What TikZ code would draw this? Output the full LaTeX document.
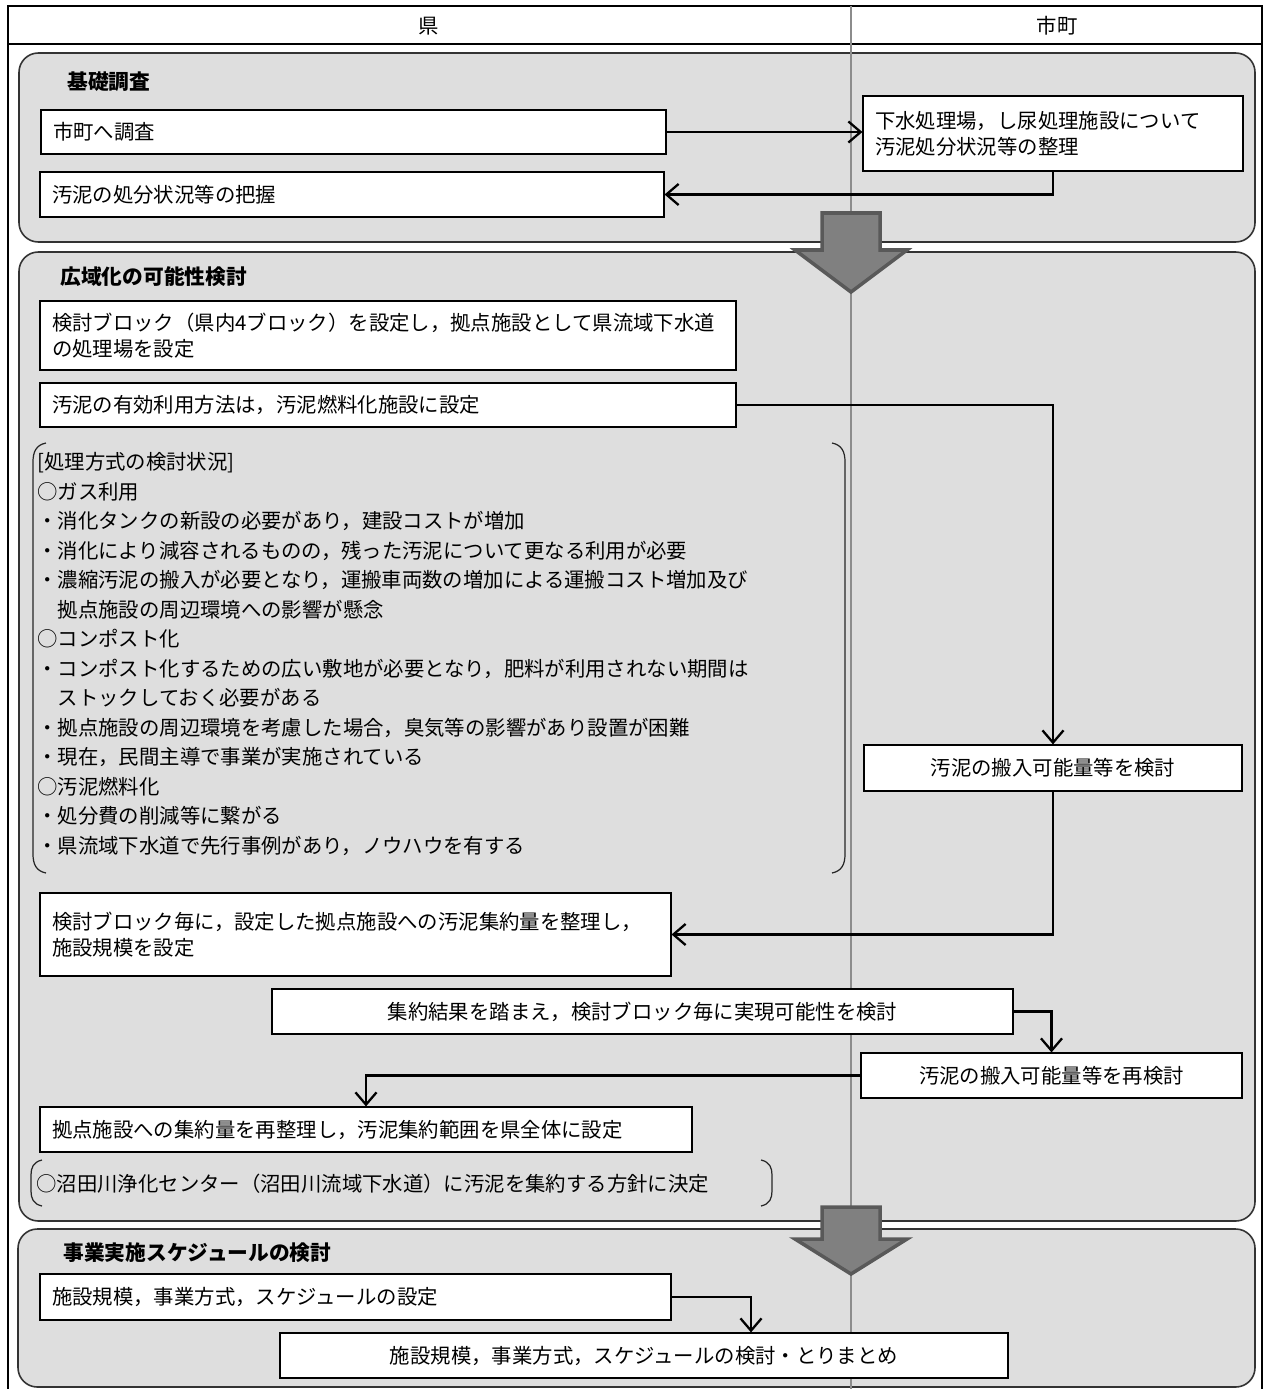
\documentclass[tikz,border=0pt]{standalone}
\usepackage{fontspec}
\setmainfont{Noto Sans CJK JP}
\usetikzlibrary{arrows.meta}
\newcommand{\bodyfont}{\fontsize{11.6pt}{15pt}\selectfont}
\newcommand{\listfont}{\fontsize{11.6pt}{16.8pt}\selectfont}
\begin{document}
\begin{tikzpicture}[
    x = 0.02cm, y = -0.02cm,
    panel/.style = {
        draw = black!80,
        line width = 0.9pt,
        fill = black!13,
        rounded corners = 11pt
    },
    box/.style = {
        draw,
        fill = white,
        line width = 0.7pt,
        inner xsep = 0.24cm,
        inner ysep = 0pt,
        align = left,
        font = \bodyfont
    },
    cbox/.style = {box, align = center},
    title/.style = {anchor = west, inner sep = 0pt, font = \fontsize{11.8pt}{14pt}\selectfont\bfseries},
    lane/.style = {draw = black!45, line width = 1.3pt},
    bigarrow/.style = {fill = black!50, draw = black!65, line width = 2pt},
    bracket/.style = {draw = black!85, line width = 0.7pt},
    flow/.style = {-{Straight Barb[length = 7pt, width = 12pt]}, line width = 1.3pt}
]
\useasboundingbox (0,0) rectangle (1267,1389);

% Frame and lane header
\draw[line width = 1.1pt] (8,1389) -- (8,6) -- (1262,6) -- (1262,1389);
\draw[line width = 1.1pt] (8,44) -- (1262,44);
\node[font = \bodyfont] (pref) at (429,26) {県};
\node[font = \bodyfont] (town) at (1057,26) {市町};

% Phase panels
\draw[panel] (19,53) rectangle (1255,242);
\draw[panel] (19,252) rectangle (1255,1221);
\draw[panel] (18,1229) rectangle (1255,1387);

% Lane divider
\draw[lane] (851,6) -- (851,1389);

% Arrows between phases
\foreach \ytop/\yhead/\ytip in {213/250/292, 1207/1239/1274}
    \draw[bigarrow] (822,\ytop) -- (880,\ytop) -- (880,\yhead) -- (907,\yhead)
        -- (851,\ytip) -- (795,\yhead) -- (822,\yhead) -- cycle;

% Phase 1: survey
\node[title] (survey) at (67,82) {基礎調査};
\node[box, text width = 12.02cm, minimum height = 0.88cm] (ask) at (353.5,132) {市町へ調査};
\node[box, text width = 12.0cm, minimum height = 0.9cm] (grasp) at (352,194.5) {汚泥の処分状況等の把握};
\node[box, text width = 7.12cm, minimum height = 1.5cm] (sort) at (1053,133.5) {
    下水処理場，し尿処理施設について\\
    汚泥処分状況等の整理
};

\draw[flow] (ask.east) -- (ask.east -| sort.west);
\draw[flow] (sort.south) |- (grasp.east);

% Phase 2: wide-area study
\node[title] (study) at (60,277) {広域化の可能性検討};
\node[box, text width = 13.44cm, minimum height = 1.38cm] (block) at (388,335.5) {
    検討ブロック（県内4ブロック）を設定し，拠点施設として県流域下水道\\
    の処理場を設定
};
\node[box, text width = 13.44cm, minimum height = 0.88cm] (use) at (388,405) {汚泥の有効利用方法は，汚泥燃料化施設に設定};

% Treatment methods (bracketed note)
\draw[bracket] (46,443) .. controls (36,445) and (33,452) .. (33,462) -- (33,854)
    .. controls (33,864) and (36,871) .. (46,873);
\draw[bracket] (832,443) .. controls (842,445) and (845,452) .. (845,462) -- (845,854)
    .. controls (845,864) and (842,871) .. (832,873);
\node[anchor = north west, inner sep = 0pt, align = left, font = \listfont] (methods) at (37,452) {
    [処理方式の検討状況]\\
    ○ガス利用\\
    ・消化タンクの新設の必要があり，建設コストが増加\\
    ・消化により減容されるものの，残った汚泥について更なる利用が必要\\
    ・濃縮汚泥の搬入が必要となり，運搬車両数の増加による運搬コスト増加及び\\
    　拠点施設の周辺環境への影響が懸念\\
    ○コンポスト化\\
    ・コンポスト化するための広い敷地が必要となり，肥料が利用されない期間は\\
    　ストックしておく必要がある\\
    ・拠点施設の周辺環境を考慮した場合，臭気等の影響があり設置が困難\\
    ・現在，民間主導で事業が実施されている\\
    ○汚泥燃料化\\
    ・処分費の削減等に繋がる\\
    ・県流域下水道で先行事例があり，ノウハウを有する
};

\node[cbox, text width = 7.08cm, minimum height = 0.92cm] (intake) at (1053,768) {汚泥の搬入可能量等を検討};
\node[box, text width = 12.14cm, minimum height = 1.66cm] (scale) at (355.5,934.5) {
    検討ブロック毎に，設定した拠点施設への汚泥集約量を整理し，\\
    施設規模を設定
};
\node[cbox, text width = 14.34cm, minimum height = 0.9cm] (feasible) at (642.5,1011.5) {集約結果を踏まえ，検討ブロック毎に実現可能性を検討};
\node[cbox, text width = 7.14cm, minimum height = 0.9cm] (recheck) at (1051.5,1075.5) {汚泥の搬入可能量等を再検討};
\node[box, text width = 12.56cm, minimum height = 0.9cm] (range) at (366,1129.5) {拠点施設への集約量を再整理し，汚泥集約範囲を県全体に設定};

% Decision (bracketed note)
\draw[bracket] (42,1160) .. controls (33,1162) and (31,1168) .. (31,1175) -- (31,1191)
    .. controls (31,1198) and (33,1204) .. (42,1206);
\draw[bracket] (761,1160) .. controls (770,1162) and (772,1168) .. (772,1175) -- (772,1191)
    .. controls (772,1198) and (770,1204) .. (761,1206);
\node[anchor = west, inner sep = 0pt, font = \bodyfont] (decide) at (36,1184) {○沼田川浄化センター（沼田川流域下水道）に汚泥を集約する方針に決定};

\draw[flow] (use.east) -| (intake.north);
\draw[flow] (intake.south) |- (scale.east);
\draw[flow] (feasible.east) -| (recheck.north);
\draw[flow] (recheck.west) -| (range.north);

% Phase 3: schedule
\node[title] (plan) at (63,1253) {事業実施スケジュールの検討};
\node[box, text width = 12.14cm, minimum height = 0.92cm] (setup) at (355.5,1297) {施設規模，事業方式，スケジュールの設定};
\node[cbox, text width = 14.08cm, minimum height = 0.9cm] (summary) at (644,1355.5) {施設規模，事業方式，スケジュールの検討・とりまとめ};

\coordinate (turn) at (751,1297);
\draw[flow] (setup.east) -- (turn) -- (turn |- summary.north);

\end{tikzpicture}
\end{document}
